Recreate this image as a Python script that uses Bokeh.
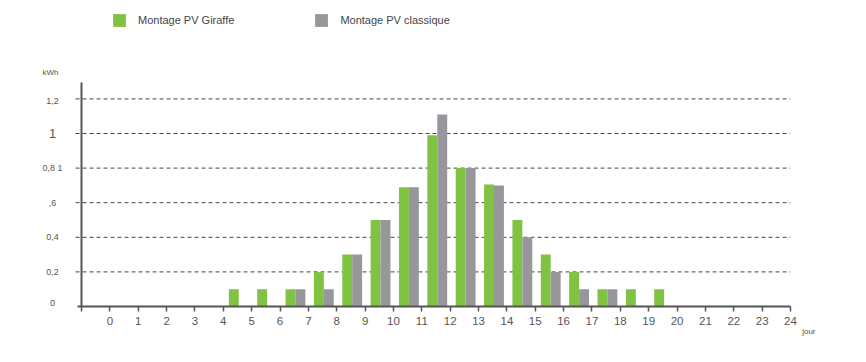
from bokeh.plotting import figure
from bokeh.models import (ColumnDataSource, Range1d, FixedTicker, Legend, LegendItem, Title)
from bokeh.core.properties import value
from bokeh.embed import file_html
from bokeh.resources import INLINE

hours = list(range(24))
giraffe = [0, 0, 0, 0, 0.1, 0.1, 0.1, 0.2, 0.3, 0.5, 0.69, 0.99,
           0.8, 0.705, 0.5, 0.3, 0.2, 0.1, 0.1, 0.1, 0, 0, 0, 0]
classique = [0, 0, 0, 0, 0, 0, 0.1, 0.1, 0.3, 0.5, 0.69, 1.11,
             0.8, 0.7, 0.4, 0.2, 0.1, 0.1, 0, 0, 0, 0, 0, 0]
x_ticks = list(range(-1, 25))
x_tick_labels = [""] + [str(i) for i in range(25)]
y_ticks = [0, 0.2, 0.4, 0.6, 0.8, 1.0, 1.2]
y_tick_labels = ["0", "0,2", "0,4", ",6", "0,8 1", "1", "1,2"]
y_label_sizes = ["9px", "9px", "9px", "9px", "9px", "13px", "9px"]
y_label_dy = [-4, 0, 0, 0, 0, 0, 2]
series_names = ["Montage PV Giraffe", "Montage PV classique"]
y_unit = "kWh"
x_unit = "jour"

GREEN = "#80C241"
GRAY = "#97979B"
AXIS = "#555555"
TXT = "#555555"
FONT = "Liberation Sans"

X_MIN, X_MAX = -1.0, 24.0
Y_TOP = 1.295

src = ColumnDataSource(dict(
    xg=[h + 0.37 for h in hours],
    xc=[h + 0.72 for h in hours],
    g=giraffe, c=classique))

p = figure(width=850, height=346, output_backend="svg", toolbar_location=None,
           x_range=Range1d(-2.516, X_MAX), y_range=Range1d(0, 1.711),
           min_border_left=38, min_border_right=60, min_border_top=10,
           min_border_bottom=40)
p.outline_line_color = None
p.background_fill_color = "white"
p.border_fill_color = "white"
p.xgrid.visible = False
p.ygrid.visible = False
p.yaxis.visible = False

# dashed horizontal grid lines (restricted extent)
grid_y = y_ticks[1:]
p.segment(x0=[X_MIN - 0.21] * len(grid_y), y0=grid_y,
          x1=[X_MAX] * len(grid_y), y1=grid_y,
          line_color="#444444", line_dash="4 3", line_width=1)

# bars
rg = p.vbar(x="xg", top="g", width=0.35, source=src, fill_color=GREEN, line_color=None)
rc = p.vbar(x="xc", top="c", width=0.35, source=src, fill_color=GRAY, line_color=None)

# y axis line
p.segment(x0=[X_MIN], y0=[0], x1=[X_MIN], y1=[Y_TOP], line_color=AXIS, line_width=2)

# y tick labels
ysrc = ColumnDataSource(dict(x=[X_MIN] * len(y_ticks), y=y_ticks,
                             t=y_tick_labels, s=y_label_sizes, dy=y_label_dy))
p.text(x="x", y="y", text="t", text_font_size="s", y_offset="dy", source=ysrc,
       x_offset=-29, text_align="center", text_baseline="middle",
       text_font=value(FONT), text_color=TXT)
p.text(x=[X_MIN], y=[Y_TOP], text=[y_unit], x_offset=-31, y_offset=-10,
       text_align="center", text_baseline="middle", text_font=value(FONT),
       text_font_size="8px", text_color=TXT)

# x axis
xa = p.xaxis[0]
xa.bounds = (X_MIN - 0.14, X_MAX)
xa.ticker = FixedTicker(ticks=x_ticks)
xa.major_label_overrides = {t: l for t, l in zip(x_ticks, x_tick_labels)}
xa.minor_tick_line_color = None
xa.axis_line_color = AXIS
xa.axis_line_width = 2
xa.major_tick_line_color = AXIS
xa.major_tick_line_width = 1.5
xa.major_tick_out = 5
xa.major_tick_in = 0
xa.major_label_standoff = 5
xa.major_label_text_font = FONT
xa.major_label_text_font_size = "11.5px"
xa.major_label_text_color = TXT

p.add_layout(Title(text=x_unit, align="right", offset=-25, standoff=-5,
                   text_font=FONT, text_font_size="8px", text_color=TXT,
                   text_font_style="normal"), "below")

legend = Legend(items=[LegendItem(label=series_names[0], renderers=[rg]),
                       LegendItem(label=series_names[1], renderers=[rc])],
                orientation="horizontal", location=(73, 278),
                glyph_width=16, glyph_height=16, label_height=16,
                label_standoff=11, spacing=79, padding=0, margin=0,
                border_line_color=None, background_fill_alpha=0,
                label_text_font=FONT, label_text_font_size="11px",
                label_text_color="#444444")
p.add_layout(legend)

open("out.html", "w").write(file_html(p, INLINE))
